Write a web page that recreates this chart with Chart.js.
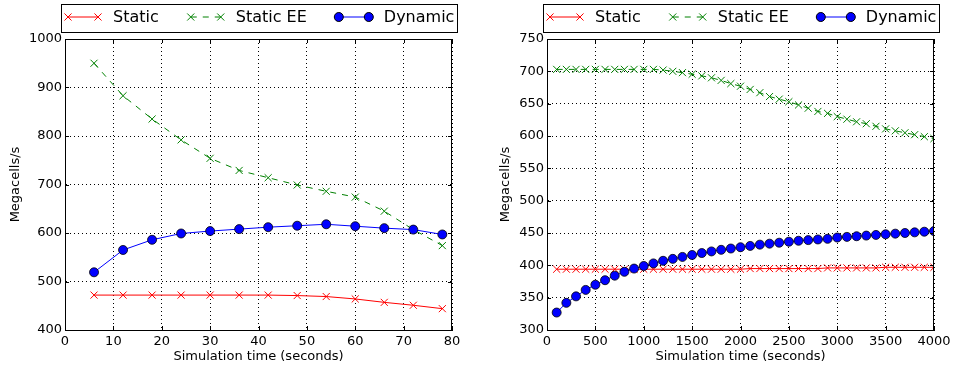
<!DOCTYPE html>
<html>
<head>
<meta charset="utf-8">
<script src="https://cdn.jsdelivr.net/npm/chart.js@4"></script>
<style>
  body { margin: 0; background: #fff; }
  #leftChart { position: absolute; left: 0; top: 0; }
  #rightChart { position: absolute; left: 478px; top: 0; }
</style>
</head>
<body>
<canvas id="leftChart" width="478" height="368"></canvas>
<canvas id="rightChart" width="479" height="368"></canvas>
<script>
// Left panel: short run
const leftTimes = [6, 12, 18, 24, 30, 36, 42, 48, 54, 60, 66, 72, 78];
const leftStatic = [472, 472, 472, 472, 472, 472, 472, 471, 469, 464, 457, 451, 444];
const leftStaticEE = [950, 883, 835, 792, 754, 729, 714, 699, 686, 674, 645, 607, 574];
const leftDynamic = [519, 565, 586, 599, 604, 608, 612, 615, 618, 614, 610, 607, 597];

// Right panel: long run
const rightTimes = [100, 200, 300, 400, 500, 600, 700, 800, 900, 1000,
  1100, 1200, 1300, 1400, 1500, 1600, 1700, 1800, 1900, 2000,
  2100, 2200, 2300, 2400, 2500, 2600, 2700, 2800, 2900, 3000,
  3100, 3200, 3300, 3400, 3500, 3600, 3700, 3800, 3900, 4000];
const rightStatic = [394, 394, 394, 394, 394, 394, 394, 394, 394, 394,
  394, 394, 394, 394, 394, 394, 394, 394, 394, 394,
  395, 395, 395, 395, 395, 395, 395, 395, 396, 396,
  396, 396, 396, 396, 397, 397, 397, 397, 397, 397];
const rightStaticEE = [703, 703, 703, 703, 703, 703, 703, 703, 703, 703,
  703, 702, 700, 698, 695.5, 693, 690, 686, 681, 677,
  672, 667, 661, 657, 653, 648, 643, 638, 635, 630,
  626, 622, 619, 615, 611, 608, 605, 602, 599, 596];
const rightDynamic = [327, 342, 352, 362, 370, 377, 384, 390, 395, 399,
  403, 407, 410, 413, 416, 419, 421.5, 424, 426, 428,
  430, 432, 433.5, 435, 436.5, 438, 439, 440, 441, 443,
  444, 445, 446, 447, 448, 449, 450, 451, 452, 453];

const seriesLabels = ['Static', 'Static EE', 'Dynamic'];

Chart.defaults.font.family = '"DejaVu Sans", sans-serif';
Chart.defaults.color = '#000';

// frame + inward ticks like matplotlib
const framePlugin = {
  id: 'frame',
  afterDraw(chart) {
    const { ctx, chartArea: a, scales } = chart;
    ctx.save();
    ctx.strokeStyle = '#000';
    ctx.lineWidth = 1;
    ctx.beginPath();
    scales.x.ticks.forEach(t => {
      const px = Math.round(scales.x.getPixelForValue(t.value)) + 0.5;
      ctx.moveTo(px, a.bottom); ctx.lineTo(px, a.bottom - 4);
      ctx.moveTo(px, a.top); ctx.lineTo(px, a.top + 4);
    });
    scales.y.ticks.forEach(t => {
      const py = Math.round(scales.y.getPixelForValue(t.value)) + 0.5;
      ctx.moveTo(a.left, py); ctx.lineTo(a.left + 4, py);
      ctx.moveTo(a.right, py); ctx.lineTo(a.right - 4, py);
    });
    ctx.stroke();
    ctx.strokeRect(Math.round(a.left) + 0.5, Math.round(a.top) + 0.5,
      Math.round(a.width) - 1, Math.round(a.height));
    ctx.restore();
  }
};

function drawMarker(ctx, ds, x, y) {
  ctx.strokeStyle = ds.pointBorderColor;
  ctx.lineWidth = 1;
  if (ds.pointStyle === 'circle') {
    ctx.fillStyle = ds.pointBackgroundColor;
    ctx.beginPath();
    ctx.arc(x, y, ds.pointRadius, 0, Math.PI * 2);
    ctx.fill();
    ctx.stroke();
  } else {
    const r = ds.pointRadius * Math.SQRT1_2;
    ctx.beginPath();
    ctx.moveTo(x - r, y - r); ctx.lineTo(x + r, y + r);
    ctx.moveTo(x - r, y + r); ctx.lineTo(x + r, y - r);
    ctx.stroke();
  }
}

// boxed legend above the plot
const legendPlugin = {
  id: 'boxLegend',
  afterDraw(chart) {
    const { ctx, chartArea: a } = chart;
    const w = 396, h = 28, y0 = 4;
    const x0 = Math.round((a.left + a.right) / 2 - w / 2);
    ctx.save();
    ctx.fillStyle = '#fff';
    ctx.fillRect(x0, y0, w, h);
    ctx.strokeStyle = '#000';
    ctx.lineWidth = 1;
    ctx.strokeRect(x0 + 0.5, y0 + 0.5, w, h);
    ctx.font = '16px "DejaVu Sans"';
    ctx.textBaseline = 'middle';
    const yc = y0 + 13;
    let x = x0 + 7;
    chart.data.datasets.forEach(ds => {
      ctx.strokeStyle = ds.borderColor;
      ctx.lineWidth = 1;
      ctx.setLineDash(ds.borderDash || []);
      ctx.beginPath();
      ctx.moveTo(x, yc); ctx.lineTo(x + 30, yc);
      ctx.stroke();
      ctx.setLineDash([]);
      drawMarker(ctx, ds, x, yc);
      drawMarker(ctx, ds, x + 30, yc);
      ctx.fillStyle = '#000';
      ctx.fillText(ds.label, x + 45, yc + 1);
      x += 45 + ctx.measureText(ds.label).width + 32;
    });
    ctx.restore();
  }
};

function toPoints(times, vals) {
  return times.map((t, i) => ({ x: t, y: vals[i] }));
}

function makeChart(id, times, s, ee, dyn, o) {
  const ctx = document.getElementById(id).getContext('2d');
  return new Chart(ctx, {
    type: 'line',
    data: {
      datasets: [
        {
          label: seriesLabels[0], data: toPoints(times, s), order: 2,
          borderColor: '#ff0000', borderWidth: 1,
          pointStyle: 'crossRot', pointRadius: 5, pointBorderColor: '#ff0000',
          pointBackgroundColor: '#ff0000', pointBorderWidth: 1
        },
        {
          label: seriesLabels[1], data: toPoints(times, ee), order: 1,
          borderColor: '#008000', borderWidth: 1, borderDash: [6, 6],
          pointStyle: 'crossRot', pointRadius: 5, pointBorderColor: '#008000',
          pointBackgroundColor: '#008000', pointBorderWidth: 1
        },
        {
          label: seriesLabels[2], data: toPoints(times, dyn), order: 0,
          borderColor: '#0000ff', borderWidth: 1,
          pointStyle: 'circle', pointRadius: 4.5, pointBorderColor: '#000000',
          pointBackgroundColor: '#0000ff', pointBorderWidth: 0.8
        }
      ]
    },
    options: {
      responsive: false,
      animation: false,
      layout: { padding: { top: 39, right: o.padRight, left: 0, bottom: 0 } },
      plugins: { legend: { display: false }, tooltip: { enabled: false } },
      elements: { line: { tension: 0 } },
      scales: {
        x: {
          type: 'linear', min: o.xMin, max: o.xMax,
          ticks: { stepSize: o.xStep, padding: 4, font: { size: 13 }, maxRotation: 0, callback: v => String(v) },
          grid: { color: '#000', lineWidth: 1, drawTicks: false },
          border: { display: true, color: '#000', dash: [1, 3] },
          title: { display: true, text: 'Simulation time (seconds)', font: { size: 13 }, padding: { top: 0, bottom: 4 } },
          afterFit: sc => { sc.height = 38; }
        },
        y: {
          min: o.yMin, max: o.yMax,
          ticks: { stepSize: o.yStep, padding: 3, font: { size: 13 }, callback: v => String(v) },
          grid: { color: '#000', lineWidth: 1, drawTicks: false },
          border: { display: true, color: '#000', dash: [1, 3] },
          title: { display: true, text: 'Megacells/s', font: { size: 13 }, padding: { top: o.yTitlePad, bottom: 0 } },
          afterFit: sc => { sc.width = o.yWidth; }
        }
      }
    },
    plugins: [framePlugin, legendPlugin]
  });
}

makeChart('leftChart', leftTimes, leftStatic, leftStaticEE, leftDynamic, {
  xMin: 0, xMax: 80, xStep: 10, yMin: 400, yMax: 1000, yStep: 100,
  padRight: 26, yWidth: 65, yTitlePad: 8
});
makeChart('rightChart', rightTimes, rightStatic, rightStaticEE, rightDynamic, {
  xMin: 0, xMax: 4000, xStep: 500, yMin: 300, yMax: 750, yStep: 50,
  padRight: 23, yWidth: 69, yTitlePad: 20
});
</script>
</body>
</html>
